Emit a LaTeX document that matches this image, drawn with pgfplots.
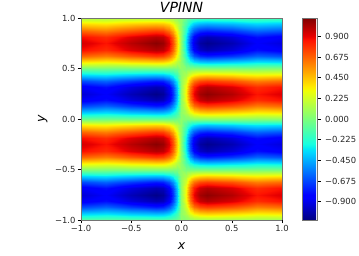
\documentclass[border=0pt]{standalone}
\usepackage{pgfplots}
\usepackage{fontspec}
\setmainfont{DejaVu Sans}
\pgfplotsset{compat=1.18}
\definecolor{spine}{gray}{0.45}
\pgfplotsset{colormap={mjet}{
rgb(0pt)=(0,0,.5); rgb(110pt)=(0,0,1); rgb(125pt)=(0,0,1); rgb(340pt)=(0,.86,1);
rgb(350pt)=(0,.90,.968); rgb(375pt)=(.0806,1,.887); rgb(640pt)=(.935,1,.032);
rgb(650pt)=(.968,.963,0); rgb(660pt)=(1,.926,0); rgb(890pt)=(1,.074,0);
rgb(910pt)=(.909,0,0); rgb(1000pt)=(.5,0,0)}}
\begin{document}
\begin{tikzpicture}[x=1pt,y=1pt]
\useasboundingbox (0,0) rectangle (359,255);
\begin{axis}[
at={(81pt,35pt)},anchor=south west,scale only axis,width=201pt,height=202pt,
view={0}{90},xmin=-1,xmax=1,ymin=-1,ymax=1,
colormap name=mjet,point meta min=-1.1,point meta max=1.1,
xtick={-1,-.5,0,.5,1},ytick={-1,-.5,0,.5,1},
xticklabels={−1.0,−0.5,0.0,0.5,1.0},yticklabels={−1.0,−0.5,0.0,0.5,1.0},
tick align=outside,tick pos=lower,
tick style={black,line width=0.4pt},major tick length=3pt,
ticklabel style={font=\fontsize{8.4}{10}\selectfont,text=black!85},
axis line style={spine,line width=0.6pt},
xticklabel shift=-1pt,yticklabel shift=-1pt,
title={\textit{VPINN}},title style={font=\fontsize{14}{16}\selectfont,at={(0.5,1)},anchor=south,yshift=-4pt},
xlabel={\textit{x}},ylabel={\textit{y}},
label style={font=\fontsize{12.5}{14}\selectfont},
xlabel style={at={(0.5,0)},anchor=north,yshift=-19pt},
ylabel style={at={(0,0.5)},anchor=south,yshift=30pt},
colorbar,
colorbar style={at={(1.0995,1)},anchor=north west,scale only axis,width=15.5pt,height=202pt,
 ymin=-1.1,ymax=1.1,
 ytick={-.9,-.675,-.45,-.225,0,.225,.45,.675,.9},
 yticklabels={−0.900,−0.675,−0.450,−0.225,0.000,0.225,0.450,0.675,0.900},
 ytick pos=right,yticklabel pos=right,tick align=outside,major tick length=3pt,
 yticklabel shift=1pt,
 axis line style={spine,line width=0.6pt},
 tick style={black,line width=0.4pt},
 ticklabel style={font=\fontsize{8.4}{10}\selectfont,text=black!85},
 xtick=\empty},
]
\addplot3[surf,shader=interp,mesh/cols=17] table[row sep=\\] {
x y z\\
-1 1 .14\\ -.75 1 .13\\ -.5 1 .15\\ -.25 1 .16\\ -.18 1 .16\\ -.12 1 .14\\ -.08 1 .11\\ -.04 1 .06\\ 0 1 .05\\ .04 1 -.05\\ .08 1 -.10\\ .12 1 -.14\\ .18 1 -.15\\ .25 1 -.16\\ .5 1 -.15\\ .75 1 -.13\\ 1 1 -.14\\
-1 .9375 .40\\ -.75 .9375 .37\\ -.5 .9375 .43\\ -.25 .9375 .46\\ -.18 .9375 .45\\ -.12 .9375 .40\\ -.08 .9375 .31\\ -.04 .9375 .18\\ 0 .9375 .05\\ .04 .9375 -.14\\ .08 .9375 -.29\\ .12 .9375 -.39\\ .18 .9375 -.44\\ .25 .9375 -.46\\ .5 .9375 -.43\\ .75 .9375 -.37\\ 1 .9375 -.40\\
-1 .875 .67\\ -.75 .875 .61\\ -.5 .875 .70\\ -.25 .875 .77\\ -.18 .875 .75\\ -.12 .875 .65\\ -.08 .875 .51\\ -.04 .875 .30\\ 0 .875 .05\\ .04 .875 -.23\\ .08 .875 -.48\\ .12 .875 -.64\\ .18 .875 -.73\\ .25 .875 -.76\\ .5 .875 -.71\\ .75 .875 -.61\\ 1 .875 -.65\\
-1 .8125 .87\\ -.75 .8125 .80\\ -.5 .8125 .92\\ -.25 .8125 1.00\\ -.18 .8125 .98\\ -.12 .8125 .86\\ -.08 .8125 .67\\ -.04 .8125 .39\\ 0 .8125 .05\\ .04 .8125 -.31\\ .08 .8125 -.63\\ .12 .8125 -.84\\ .18 .8125 -.96\\ .25 .8125 -1.00\\ .5 .8125 -.93\\ .75 .8125 -.80\\ 1 .8125 -.86\\
-1 .75 .94\\ -.75 .75 .86\\ -.5 .75 .99\\ -.25 .75 1.08\\ -.18 .75 1.05\\ -.12 .75 .92\\ -.08 .75 .72\\ -.04 .75 .42\\ 0 .75 .05\\ .04 .75 -.33\\ .08 .75 -.68\\ .12 .75 -.90\\ .18 .75 -1.03\\ .25 .75 -1.07\\ .5 .75 -1.00\\ .75 .75 -.86\\ 1 .75 -.92\\
-1 .6875 .87\\ -.75 .6875 .80\\ -.5 .6875 .92\\ -.25 .6875 1.00\\ -.18 .6875 .98\\ -.12 .6875 .86\\ -.08 .6875 .67\\ -.04 .6875 .39\\ 0 .6875 .05\\ .04 .6875 -.31\\ .08 .6875 -.63\\ .12 .6875 -.84\\ .18 .6875 -.96\\ .25 .6875 -1.00\\ .5 .6875 -.93\\ .75 .6875 -.80\\ 1 .6875 -.86\\
-1 .625 .67\\ -.75 .625 .61\\ -.5 .625 .70\\ -.25 .625 .77\\ -.18 .625 .75\\ -.12 .625 .65\\ -.08 .625 .51\\ -.04 .625 .30\\ 0 .625 .05\\ .04 .625 -.23\\ .08 .625 -.48\\ .12 .625 -.64\\ .18 .625 -.73\\ .25 .625 -.76\\ .5 .625 -.71\\ .75 .625 -.61\\ 1 .625 -.65\\
-1 .5625 .36\\ -.75 .5625 .33\\ -.5 .5625 .38\\ -.25 .5625 .41\\ -.18 .5625 .40\\ -.12 .5625 .35\\ -.08 .5625 .27\\ -.04 .5625 .16\\ 0 .5625 .05\\ .04 .5625 -.13\\ .08 .5625 -.26\\ .12 .5625 -.34\\ .18 .5625 -.39\\ .25 .5625 -.41\\ .5 .5625 -.38\\ .75 .5625 -.33\\ 1 .5625 -.35\\
-1 .5 -.05\\ -.75 .5 -.04\\ -.5 .5 -.05\\ -.25 .5 -.05\\ -.18 .5 -.05\\ -.12 .5 -.05\\ -.08 .5 -.04\\ -.04 .5 -.02\\ 0 .5 .05\\ .04 .5 .02\\ .08 .5 .03\\ .12 .5 .05\\ .18 .5 .05\\ .25 .5 .05\\ .5 .5 .05\\ .75 .5 .04\\ 1 .5 .05\\
-1 .4375 -.36\\ -.75 .4375 -.33\\ -.5 .4375 -.38\\ -.25 .4375 -.41\\ -.18 .4375 -.40\\ -.12 .4375 -.35\\ -.08 .4375 -.27\\ -.04 .4375 -.16\\ 0 .4375 .05\\ .04 .4375 .13\\ .08 .4375 .26\\ .12 .4375 .34\\ .18 .4375 .39\\ .25 .4375 .41\\ .5 .4375 .38\\ .75 .4375 .33\\ 1 .4375 .35\\
-1 .375 -.67\\ -.75 .375 -.61\\ -.5 .375 -.70\\ -.25 .375 -.77\\ -.18 .375 -.75\\ -.12 .375 -.65\\ -.08 .375 -.51\\ -.04 .375 -.30\\ 0 .375 .05\\ .04 .375 .23\\ .08 .375 .48\\ .12 .375 .64\\ .18 .375 .73\\ .25 .375 .76\\ .5 .375 .71\\ .75 .375 .61\\ 1 .375 .65\\
-1 .3125 -.87\\ -.75 .3125 -.80\\ -.5 .3125 -.92\\ -.25 .3125 -1.00\\ -.18 .3125 -.98\\ -.12 .3125 -.86\\ -.08 .3125 -.67\\ -.04 .3125 -.39\\ 0 .3125 .05\\ .04 .3125 .31\\ .08 .3125 .63\\ .12 .3125 .84\\ .18 .3125 .96\\ .25 .3125 1.00\\ .5 .3125 .93\\ .75 .3125 .80\\ 1 .3125 .86\\
-1 .25 -.94\\ -.75 .25 -.86\\ -.5 .25 -.99\\ -.25 .25 -1.08\\ -.18 .25 -1.05\\ -.12 .25 -.92\\ -.08 .25 -.72\\ -.04 .25 -.42\\ 0 .25 .05\\ .04 .25 .33\\ .08 .25 .68\\ .12 .25 .90\\ .18 .25 1.03\\ .25 .25 1.07\\ .5 .25 1.00\\ .75 .25 .86\\ 1 .25 .92\\
-1 .1875 -.87\\ -.75 .1875 -.80\\ -.5 .1875 -.92\\ -.25 .1875 -1.00\\ -.18 .1875 -.98\\ -.12 .1875 -.86\\ -.08 .1875 -.67\\ -.04 .1875 -.39\\ 0 .1875 .05\\ .04 .1875 .31\\ .08 .1875 .63\\ .12 .1875 .84\\ .18 .1875 .96\\ .25 .1875 1.00\\ .5 .1875 .93\\ .75 .1875 .80\\ 1 .1875 .86\\
-1 .125 -.67\\ -.75 .125 -.61\\ -.5 .125 -.70\\ -.25 .125 -.77\\ -.18 .125 -.75\\ -.12 .125 -.65\\ -.08 .125 -.51\\ -.04 .125 -.30\\ 0 .125 .05\\ .04 .125 .23\\ .08 .125 .48\\ .12 .125 .64\\ .18 .125 .73\\ .25 .125 .76\\ .5 .125 .71\\ .75 .125 .61\\ 1 .125 .65\\
-1 .0625 -.36\\ -.75 .0625 -.33\\ -.5 .0625 -.38\\ -.25 .0625 -.41\\ -.18 .0625 -.40\\ -.12 .0625 -.35\\ -.08 .0625 -.27\\ -.04 .0625 -.16\\ 0 .0625 .05\\ .04 .0625 .13\\ .08 .0625 .26\\ .12 .0625 .34\\ .18 .0625 .39\\ .25 .0625 .41\\ .5 .0625 .38\\ .75 .0625 .33\\ 1 .0625 .35\\
-1 0 -.05\\ -.75 0 -.04\\ -.5 0 -.05\\ -.25 0 -.05\\ -.18 0 -.05\\ -.12 0 -.05\\ -.08 0 -.04\\ -.04 0 -.02\\ 0 0 .05\\ .04 0 .02\\ .08 0 .03\\ .12 0 .05\\ .18 0 .05\\ .25 0 .05\\ .5 0 .05\\ .75 0 .04\\ 1 0 .05\\
-1 -.0625 .36\\ -.75 -.0625 .33\\ -.5 -.0625 .38\\ -.25 -.0625 .41\\ -.18 -.0625 .40\\ -.12 -.0625 .35\\ -.08 -.0625 .27\\ -.04 -.0625 .16\\ 0 -.0625 .05\\ .04 -.0625 -.13\\ .08 -.0625 -.26\\ .12 -.0625 -.34\\ .18 -.0625 -.39\\ .25 -.0625 -.41\\ .5 -.0625 -.38\\ .75 -.0625 -.33\\ 1 -.0625 -.35\\
-1 -.125 .67\\ -.75 -.125 .61\\ -.5 -.125 .70\\ -.25 -.125 .77\\ -.18 -.125 .75\\ -.12 -.125 .65\\ -.08 -.125 .51\\ -.04 -.125 .30\\ 0 -.125 .05\\ .04 -.125 -.23\\ .08 -.125 -.48\\ .12 -.125 -.64\\ .18 -.125 -.73\\ .25 -.125 -.76\\ .5 -.125 -.71\\ .75 -.125 -.61\\ 1 -.125 -.65\\
-1 -.1875 .87\\ -.75 -.1875 .80\\ -.5 -.1875 .92\\ -.25 -.1875 1.00\\ -.18 -.1875 .98\\ -.12 -.1875 .86\\ -.08 -.1875 .67\\ -.04 -.1875 .39\\ 0 -.1875 .05\\ .04 -.1875 -.31\\ .08 -.1875 -.63\\ .12 -.1875 -.84\\ .18 -.1875 -.96\\ .25 -.1875 -1.00\\ .5 -.1875 -.93\\ .75 -.1875 -.80\\ 1 -.1875 -.86\\
-1 -.25 .94\\ -.75 -.25 .86\\ -.5 -.25 .99\\ -.25 -.25 1.08\\ -.18 -.25 1.05\\ -.12 -.25 .92\\ -.08 -.25 .72\\ -.04 -.25 .42\\ 0 -.25 .05\\ .04 -.25 -.33\\ .08 -.25 -.68\\ .12 -.25 -.90\\ .18 -.25 -1.03\\ .25 -.25 -1.07\\ .5 -.25 -1.00\\ .75 -.25 -.86\\ 1 -.25 -.92\\
-1 -.3125 .87\\ -.75 -.3125 .80\\ -.5 -.3125 .92\\ -.25 -.3125 1.00\\ -.18 -.3125 .98\\ -.12 -.3125 .86\\ -.08 -.3125 .67\\ -.04 -.3125 .39\\ 0 -.3125 .05\\ .04 -.3125 -.31\\ .08 -.3125 -.63\\ .12 -.3125 -.84\\ .18 -.3125 -.96\\ .25 -.3125 -1.00\\ .5 -.3125 -.93\\ .75 -.3125 -.80\\ 1 -.3125 -.86\\
-1 -.375 .67\\ -.75 -.375 .61\\ -.5 -.375 .70\\ -.25 -.375 .77\\ -.18 -.375 .75\\ -.12 -.375 .65\\ -.08 -.375 .51\\ -.04 -.375 .30\\ 0 -.375 .05\\ .04 -.375 -.23\\ .08 -.375 -.48\\ .12 -.375 -.64\\ .18 -.375 -.73\\ .25 -.375 -.76\\ .5 -.375 -.71\\ .75 -.375 -.61\\ 1 -.375 -.65\\
-1 -.4375 .36\\ -.75 -.4375 .33\\ -.5 -.4375 .38\\ -.25 -.4375 .41\\ -.18 -.4375 .40\\ -.12 -.4375 .35\\ -.08 -.4375 .27\\ -.04 -.4375 .16\\ 0 -.4375 .05\\ .04 -.4375 -.13\\ .08 -.4375 -.26\\ .12 -.4375 -.34\\ .18 -.4375 -.39\\ .25 -.4375 -.41\\ .5 -.4375 -.38\\ .75 -.4375 -.33\\ 1 -.4375 -.35\\
-1 -.5 0\\ -.75 -.5 0\\ -.5 -.5 0\\ -.25 -.5 0\\ -.18 -.5 0\\ -.12 -.5 0\\ -.08 -.5 0\\ -.04 -.5 0\\ 0 -.5 .05\\ .04 -.5 0\\ .08 -.5 0\\ .12 -.5 0\\ .18 -.5 0\\ .25 -.5 0\\ .5 -.5 0\\ .75 -.5 0\\ 1 -.5 0\\
-1 -.5625 -.36\\ -.75 -.5625 -.33\\ -.5 -.5625 -.38\\ -.25 -.5625 -.41\\ -.18 -.5625 -.40\\ -.12 -.5625 -.35\\ -.08 -.5625 -.27\\ -.04 -.5625 -.16\\ 0 -.5625 .05\\ .04 -.5625 .13\\ .08 -.5625 .26\\ .12 -.5625 .34\\ .18 -.5625 .39\\ .25 -.5625 .41\\ .5 -.5625 .38\\ .75 -.5625 .33\\ 1 -.5625 .35\\
-1 -.625 -.67\\ -.75 -.625 -.61\\ -.5 -.625 -.70\\ -.25 -.625 -.77\\ -.18 -.625 -.75\\ -.12 -.625 -.65\\ -.08 -.625 -.51\\ -.04 -.625 -.30\\ 0 -.625 .05\\ .04 -.625 .23\\ .08 -.625 .48\\ .12 -.625 .64\\ .18 -.625 .73\\ .25 -.625 .76\\ .5 -.625 .71\\ .75 -.625 .61\\ 1 -.625 .65\\
-1 -.6875 -.87\\ -.75 -.6875 -.80\\ -.5 -.6875 -.92\\ -.25 -.6875 -1.00\\ -.18 -.6875 -.98\\ -.12 -.6875 -.86\\ -.08 -.6875 -.67\\ -.04 -.6875 -.39\\ 0 -.6875 .05\\ .04 -.6875 .31\\ .08 -.6875 .63\\ .12 -.6875 .84\\ .18 -.6875 .96\\ .25 -.6875 1.00\\ .5 -.6875 .93\\ .75 -.6875 .80\\ 1 -.6875 .86\\
-1 -.75 -.94\\ -.75 -.75 -.86\\ -.5 -.75 -.99\\ -.25 -.75 -1.08\\ -.18 -.75 -1.05\\ -.12 -.75 -.92\\ -.08 -.75 -.72\\ -.04 -.75 -.42\\ 0 -.75 .05\\ .04 -.75 .33\\ .08 -.75 .68\\ .12 -.75 .90\\ .18 -.75 1.03\\ .25 -.75 1.07\\ .5 -.75 1.00\\ .75 -.75 .86\\ 1 -.75 .92\\
-1 -.8125 -.87\\ -.75 -.8125 -.80\\ -.5 -.8125 -.92\\ -.25 -.8125 -1.00\\ -.18 -.8125 -.98\\ -.12 -.8125 -.86\\ -.08 -.8125 -.67\\ -.04 -.8125 -.39\\ 0 -.8125 .05\\ .04 -.8125 .31\\ .08 -.8125 .63\\ .12 -.8125 .84\\ .18 -.8125 .96\\ .25 -.8125 1.00\\ .5 -.8125 .93\\ .75 -.8125 .80\\ 1 -.8125 .86\\
-1 -.875 -.67\\ -.75 -.875 -.61\\ -.5 -.875 -.70\\ -.25 -.875 -.77\\ -.18 -.875 -.75\\ -.12 -.875 -.65\\ -.08 -.875 -.51\\ -.04 -.875 -.30\\ 0 -.875 .05\\ .04 -.875 .23\\ .08 -.875 .48\\ .12 -.875 .64\\ .18 -.875 .73\\ .25 -.875 .76\\ .5 -.875 .71\\ .75 -.875 .61\\ 1 -.875 .65\\
-1 -.9375 -.36\\ -.75 -.9375 -.33\\ -.5 -.9375 -.38\\ -.25 -.9375 -.41\\ -.18 -.9375 -.40\\ -.12 -.9375 -.35\\ -.08 -.9375 -.27\\ -.04 -.9375 -.16\\ 0 -.9375 .05\\ .04 -.9375 .13\\ .08 -.9375 .26\\ .12 -.9375 .34\\ .18 -.9375 .39\\ .25 -.9375 .41\\ .5 -.9375 .38\\ .75 -.9375 .33\\ 1 -.9375 .35\\
-1 -1 -.09\\ -.75 -1 -.09\\ -.5 -1 -.10\\ -.25 -1 -.11\\ -.18 -1 -.11\\ -.12 -1 -.09\\ -.08 -1 -.07\\ -.04 -1 -.04\\ 0 -1 .05\\ .04 -1 .03\\ .08 -1 .07\\ .12 -1 .09\\ .18 -1 .10\\ .25 -1 .11\\ .5 -1 .10\\ .75 -1 .09\\ 1 -1 .09\\
};
\end{axis}
\end{tikzpicture}
\end{document}
